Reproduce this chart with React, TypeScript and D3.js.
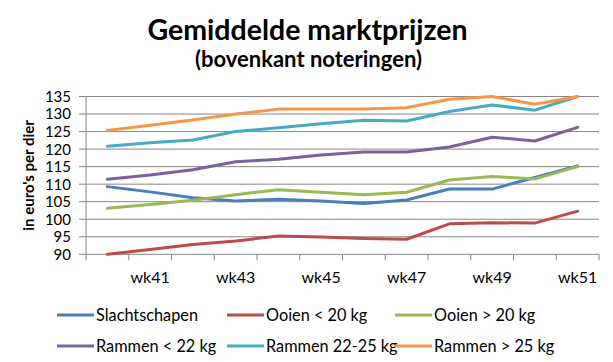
import React from "react";
import * as d3 from "d3";

const weeks = ["wk40","wk41","wk42","wk43","wk44","wk45","wk46","wk47","wk48","wk49","wk50","wk51"];
const tickLabels = ["wk41","wk43","wk45","wk47","wk49","wk51"];
const yTicks = [90,95,100,105,110,115,120,125,130,135];

const slachtschapen = [109.3,107.8,106.1,105.2,105.7,105.2,104.5,105.5,108.6,108.6,111.9,115.2];
const ooienLt20 = [90.0,91.4,92.8,93.8,95.2,94.9,94.5,94.3,98.7,99.0,98.9,102.3];
const ooienGt20 = [103.1,104.2,105.4,107.0,108.4,107.7,107.0,107.7,111.2,112.2,111.5,115.0];
const rammenLt22 = [111.4,112.6,114.1,116.4,117.1,118.3,119.2,119.2,120.6,123.4,122.3,126.2];
const rammen2225 = [120.8,121.8,122.6,125.0,126.1,127.2,128.2,128.0,130.7,132.6,131.1,135.0];
const rammenGt25 = [125.3,126.8,128.3,130.0,131.4,131.4,131.4,131.8,134.2,135.0,132.8,135.0];

const seriesNames = ["Slachtschapen","Ooien < 20 kg","Ooien > 20 kg","Rammen < 22 kg","Rammen 22-25 kg","Rammen > 25 kg"];
const seriesValues = [slachtschapen, ooienLt20, ooienGt20, rammenLt22, rammen2225, rammenGt25];
const colors = ["#4A7EBB","#BE4B48","#98B954","#7D60A0","#46AAC5","#F79646"];

const W = 613, H = 362;
const left = 86, right = 599, top = 96.5, bottom = 254.3;
const font = "Lato, 'Open Sans', sans-serif";

export default function App() {
  const x = d3.scaleBand<string>().domain(weeks).range([left, right]).paddingInner(0).paddingOuter(0);
  const y = d3.scaleLinear().domain([90, 135]).range([bottom, top]);
  const line = d3.line<number>()
    .x((_, i) => (x(weeks[i]) as number) + x.bandwidth() / 2)
    .y((d) => y(d));
  const boundaries = weeks.map((w) => x(w) as number).concat([right]);

  const legendCols = [57, 227, 395];
  const legendRows = [315, 346];

  return (
    <svg width={W} height={H} style={{ position: "absolute", left: 0, top: 0, background: "#fff" }} fontFamily={font}>
      <text x={307.5} y={40} textAnchor="middle" fontSize={28.5} fontWeight="bold" fill="#000">Gemiddelde marktprijzen</text>
      <text x={308.5} y={67} textAnchor="middle" fontSize={22} fontWeight="bold" fill="#000">(bovenkant noteringen)</text>
      <text transform={`translate(34,${(top + bottom) / 2}) rotate(-90)`} textAnchor="middle" fontSize={15} fontWeight="bold" fill="#000">in euro's per dier</text>
      {yTicks.map((t) => (
        <g key={t}>
          <line x1={left - 7} x2={right} y1={y(t)} y2={y(t)} stroke="#868686" strokeWidth={1} />
          <text x={71} y={y(t)} dy="0.36em" textAnchor="end" fontSize={15} fill="#000">{t}</text>
        </g>
      ))}
      <line x1={left} x2={left} y1={top} y2={bottom} stroke="#868686" strokeWidth={1} />
      {boundaries.map((b, i) => (
        <line key={i} x1={b} x2={b} y1={bottom} y2={bottom + 6} stroke="#868686" strokeWidth={1} />
      ))}
      {weeks.map((w) => tickLabels.includes(w) ? (
        <text key={w} x={(x(w) as number) + x.bandwidth() / 2} y={283} textAnchor="middle" fontSize={16} fill="#000">{w}</text>
      ) : null)}
      {seriesValues.map((vals, i) => (
        <path key={i} d={line(vals) || ""} fill="none" stroke={colors[i]} strokeWidth={3} strokeLinejoin="round" strokeLinecap="round" />
      ))}
      {seriesNames.map((n, i) => {
        const cx = legendCols[i % 3];
        const cy = legendRows[Math.floor(i / 3)];
        return (
          <g key={n}>
            <line x1={cx} x2={cx + 37} y1={cy} y2={cy} stroke={colors[i]} strokeWidth={3} />
            <text x={cx + 39} y={cy} dy="0.36em" fontSize={16.3} fill="#000">{n}</text>
          </g>
        );
      })}
    </svg>
  );
}
